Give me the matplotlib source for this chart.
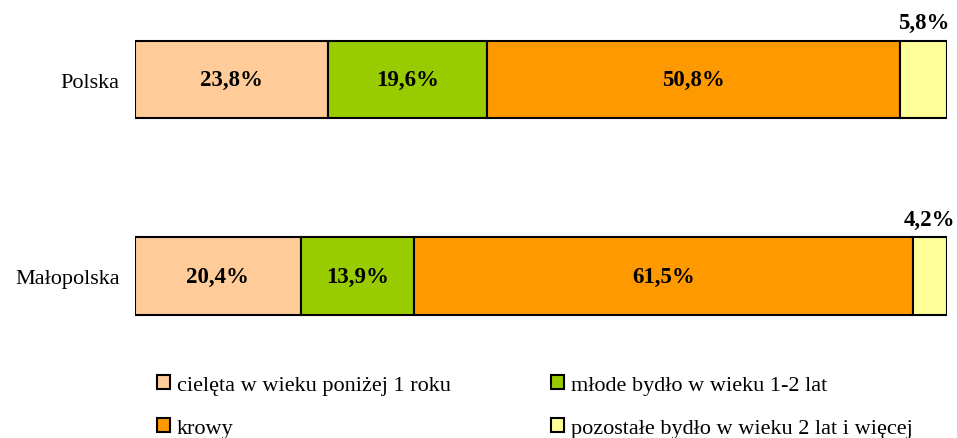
import matplotlib.pyplot as plt
from matplotlib.patches import Rectangle

plt.rcParams['font.family'] = ['Liberation Serif', 'DejaVu Serif']

regions = ["Polska", "Małopolska"]
categories = ["cielęta w wieku poniżej 1 roku", "młode bydło w wieku 1-2 lat",
              "krowy", "pozostałe bydło w wieku 2 lat i więcej"]
values = {
    "Polska": [23.8, 19.6, 50.8, 5.8],
    "Małopolska": [20.4, 13.9, 61.5, 4.2],
}
colors = ["#FFCC99", "#99CC00", "#FF9900", "#FFFF99"]

fig = plt.figure(figsize=(9.57, 4.39), dpi=100)
ax = fig.add_axes([135 / 957, 1 - 360 / 439, 812 / 957, 360 / 439])

for i, reg in enumerate(regions):
    left = 0
    for j, v in enumerate(values[reg]):
        ax.barh(i, v, left=left, height=0.395, color=colors[j],
                edgecolor="black", linewidth=1.5)
        label = f"{v:.1f}%".replace(".", ",")
        cx = left + v / 2
        if j == 3:
            ax.text(cx, i - 0.2 - 0.035, label, ha="center", va="bottom",
                    fontsize=16.5, fontweight="bold")
        else:
            ax.text(cx, i, label, ha="center", va="center",
                    fontsize=16.5, fontweight="bold")
        left += v

ax.set_xlim(0, 100)
ax.set_ylim(1.422, -0.41)
ax.set_yticks(range(len(regions)))
ax.set_yticklabels(regions, fontsize=16)
ax.tick_params(axis="y", length=0, pad=11)
ax.set_xticks([])
for s in ax.spines.values():
    s.set_visible(False)

handles = [Rectangle((0, 0), 1, 1, facecolor=c, edgecolor="black", linewidth=1.5)
           for c in colors]
order = [0, 2, 1, 3]
fig.legend([handles[k] for k in order], [categories[k] for k in order],
           ncol=2, loc="upper left", bbox_to_anchor=(137 / 957, 1 - 356 / 439),
           frameon=False, fontsize=16, handlelength=0.6, handleheight=0.6,
           handletextpad=0.3, columnspacing=4.5, labelspacing=1.05)

fig.savefig("out.png", dpi=100)
